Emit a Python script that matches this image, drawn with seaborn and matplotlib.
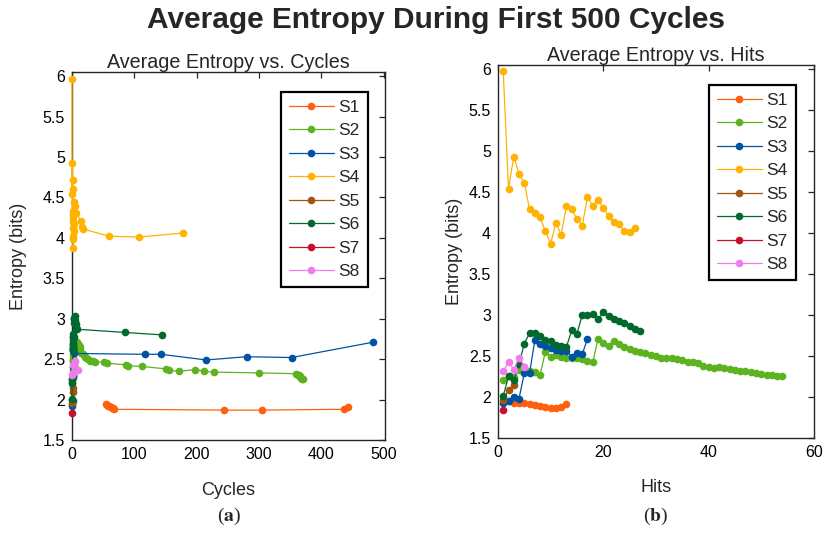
import numpy as np
import pandas as pd
import matplotlib
matplotlib.use('Agg')
import matplotlib.pyplot as plt
import seaborn as sns
from matplotlib.lines import Line2D

names = ['S1', 'S2', 'S3', 'S4', 'S5', 'S6', 'S7', 'S8']
colors = ['#FF5F0F', '#5DB31F', '#0052A2', '#FFB300', '#A0560C', '#006A2E', '#C8102E', '#F07CF0']

# entropy after each hit, the cycle it happened on and the hit number
s1_entropy = [1.95, 1.93, 1.92, 1.92, 1.91, 1.90, 1.89, 1.88, 1.87, 1.87, 1.88, 1.91]
s1_cycles = [55, 56, 58, 60, 62, 64, 66, 68, 244, 304, 437, 442]
s1_hits = [2, 3, 4, 5, 6, 7, 8, 9, 10, 11, 12, 13]

s2_entropy = [2.21, 2.25, 2.24, 2.33, 2.37, 2.31, 2.30, 2.27, 2.55, 2.49,
              2.51, 2.49, 2.48, 2.48, 2.48, 2.46, 2.44, 2.42, 2.71, 2.66,
              2.62, 2.68, 2.65, 2.61, 2.58, 2.56, 2.55, 2.53, 2.51, 2.50,
              2.48, 2.48, 2.47, 2.46, 2.45, 2.43, 2.42, 2.41, 2.38, 2.36,
              2.35, 2.37, 2.35, 2.34, 2.33, 2.32, 2.31, 2.30, 2.29, 2.28,
              2.27, 2.27, 2.26, 2.25]
s2_cycles = [0, 0, 0, 1, 1, 1, 1, 1, 2, 2,
             2, 2, 2, 3, 3, 3, 3, 3, 8, 9,
             10, 11, 12, 13, 15, 17, 19, 21, 23, 26,
             29, 33, 37, 52, 56, 86, 90, 112, 150, 155,
             171, 197, 212, 227, 300, 360, 362, 364, 365, 366,
             367, 368, 369, 370]
s2_hits = list(range(1, 55))

s3_entropy = [1.92, 1.95, 2.00, 1.98, 2.29, 2.29, 2.69, 2.65, 2.62, 2.60,
              2.57, 2.56, 2.56, 2.49, 2.53, 2.52, 2.71]
s3_cycles = [0, 0, 0, 1, 1, 1, 1, 2, 2, 2, 3, 117, 143, 215, 280, 352, 483]
s3_hits = list(range(1, 18))

s4_entropy = [5.97, 4.54, 4.93, 4.72, 4.61, 4.29, 4.24, 4.19, 4.02, 3.87,
              4.12, 3.98, 4.33, 4.29, 4.17, 4.09, 4.44, 4.33, 4.40, 4.31,
              4.21, 4.13, 4.11, 4.02, 4.01, 4.06]
s4_cycles = [0, 0, 0, 1, 1, 1, 1, 1, 2, 2,
             2, 2, 2, 3, 3, 3, 3, 3, 4, 6,
             15, 16, 17, 60, 107, 178]
s4_hits = list(range(1, 27))

s5_entropy = [1.96, 2.09, 2.14]
s5_cycles = [0, 1, 2]
s5_hits = [1, 2, 3]

s6_entropy = [2.01, 2.25, 2.20, 2.40, 2.65, 2.78, 2.78, 2.74, 2.70, 2.68,
              2.63, 2.62, 2.61, 2.81, 2.77, 3.00, 3.00, 3.01, 2.95, 3.03,
              2.99, 2.95, 2.93, 2.90, 2.87, 2.83, 2.80]
s6_cycles = [0, 0, 0, 1, 1, 1, 1, 1, 2, 2,
             2, 2, 2, 2, 3, 3, 3, 3, 3, 4,
             4, 5, 6, 7, 8, 85, 145]
s6_hits = list(range(1, 28))

s7_entropy = [1.84]
s7_cycles = [0]
s7_hits = [1]

s8_entropy = [2.31, 2.43, 2.33, 2.48, 2.37]
s8_cycles = [0, 1, 2, 4, 9]
s8_hits = [1, 2, 3, 4, 5]

all_entropy = [s1_entropy, s2_entropy, s3_entropy, s4_entropy, s5_entropy, s6_entropy, s7_entropy, s8_entropy]
all_cycles = [s1_cycles, s2_cycles, s3_cycles, s4_cycles, s5_cycles, s6_cycles, s7_cycles, s8_cycles]
all_hits = [s1_hits, s2_hits, s3_hits, s4_hits, s5_hits, s6_hits, s7_hits, s8_hits]

rows = []
for name, ent, cyc, hit in zip(names, all_entropy, all_cycles, all_hits):
    for e, c, h in zip(ent, cyc, hit):
        rows.append({'series': name, 'cycles': c, 'hits': h, 'entropy': e})
df = pd.DataFrame(rows)

sns.set_style('white')
plt.rcParams['font.family'] = ['Liberation Sans', 'DejaVu Sans']
plt.rcParams['mathtext.fontset'] = 'stix'

fig = plt.figure(figsize=(8.25, 5.34), dpi=100)
ax1 = fig.add_axes([0.0873, 0.176, 0.3794, 0.689])
ax2 = fig.add_axes([0.6036, 0.180, 0.383, 0.6985])
palette = dict(zip(names, colors))

for ax, xcol in [(ax1, 'cycles'), (ax2, 'hits')]:
    sns.lineplot(data=df, x=xcol, y='entropy', hue='series', palette=palette,
                 estimator=None, sort=False, marker='o', markersize=5.5,
                 markeredgewidth=0, linewidth=0.9, legend=False, clip_on=False, ax=ax)
    ax.set_ylim(1.5, 6.05)
    ax.set_yticks(np.arange(1.5, 6.01, 0.5))
    ax.set_yticklabels(['1.5', '2', '2.5', '3', '3.5', '4', '4.5', '5', '5.5', '6'])
    ax.tick_params(direction='in', length=4, width=0.9, top=True, right=True,
                   labelsize=11.5, colors='#262626', labelcolor='black', pad=5)
    for sp in ax.spines.values():
        sp.set_visible(True)
        sp.set_color('#262626')
        sp.set_linewidth(1.0)
        sp.set_zorder(0.5)
    ax.set_ylabel('Entropy (bits)', fontsize=13)
    handles = [Line2D([], [], color=c, marker='o', markersize=5.5, mew=0, lw=0.9) for c in colors]
    leg = ax.legend(handles, names, loc='upper left', bbox_to_anchor=(0.668, 0.946),
                    frameon=True, fancybox=False, edgecolor='black', framealpha=1,
                    fontsize=12.5, handlelength=2.6, labelspacing=0.48, borderpad=0.45,
                    handletextpad=0.25, borderaxespad=0)
    leg.get_frame().set_linewidth(1.6)

ax1.set_xlim(0, 502)
ax1.set_xticks([0, 100, 200, 300, 400, 500])
ax1.set_xlabel('Cycles', fontsize=13)
ax1.set_title('Average Entropy vs. Cycles', fontsize=14.2, pad=3)
ax1.yaxis.set_label_coords(-0.145, 0.5)
ax1.xaxis.set_label_coords(0.5, -0.115)

ax2.set_xlim(0, 60)
ax2.set_xticks([0, 20, 40, 60])
ax2.set_xlabel('Hits', fontsize=13)
ax2.set_title('Average Entropy vs. Hits', fontsize=14.2, pad=3)
ax2.yaxis.set_label_coords(-0.11, 0.5)
ax2.xaxis.set_label_coords(0.5, -0.11)

fig.suptitle('Average Entropy During First 500 Cycles', fontsize=21.5, fontweight='bold',
             x=0.529, y=0.9625, va='center')
fig.text(0.277, 0.032, r'($\mathbf{a}$)', fontsize=14, ha='center', va='center', family='Liberation Serif')
fig.text(0.795, 0.032, r'($\mathbf{b}$)', fontsize=14, ha='center', va='center', family='Liberation Serif')

fig.savefig('out.png', dpi=100)
